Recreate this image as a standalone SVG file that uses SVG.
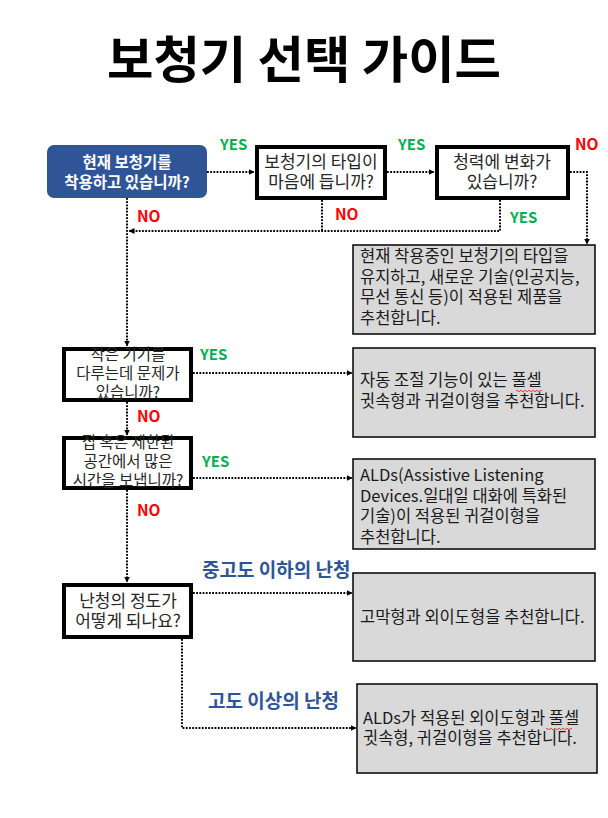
<svg xmlns="http://www.w3.org/2000/svg" width="608" height="818" viewBox="0 0 608 818">
<defs>
<marker id="ah" viewBox="0 0 6 6" refX="5.5" refY="3" markerWidth="6" markerHeight="6" markerUnits="userSpaceOnUse" orient="auto">
<path d="M0,0 L6,3 L0,6 Z" fill="#000"/>
</marker>
<style>
text{font-family:"Noto Sans CJK KR","Noto Sans",sans-serif;}
.title{font-size:50px;font-weight:bold;fill:#000;}
.q{fill:#fff;stroke:#000;stroke-width:4;}
.qt{font-size:17px;fill:#262626;text-anchor:middle;}
.qs{font-size:15.5px;fill:#262626;text-anchor:middle;}
.start{fill:#2F5597;}
.st{font-size:15.5px;font-weight:bold;fill:#fff;text-anchor:middle;}
.r{fill:#D9D9D9;stroke:#000;stroke-width:1.5;}
.rt{font-size:16.5px;fill:#1a1a1a;}
.yes{font-size:15px;font-weight:bold;fill:#00B050;}
.no{font-size:15.5px;font-weight:bold;fill:#FF0000;}
.lvl{font-size:19px;font-weight:bold;fill:#2F5597;}
.c{fill:none;stroke:#000;stroke-width:2;stroke-dasharray:1.8 1.4;}
.arr{marker-end:url(#ah);}
.sq{fill:none;stroke:#E03030;stroke-width:0.9;}
</style>
</defs>

<text class="title" x="304" y="78" text-anchor="middle" textLength="394" lengthAdjust="spacingAndGlyphs">보청기 선택 가이드</text>

<g id="connectors">
<path class="c arr" d="M207,172 H254"/>
<path class="c arr" d="M387,172 H434"/>
<path class="c arr" d="M570,172 H587 V244"/>
<path class="c" d="M322,200 V231"/>
<path class="c arr" d="M500,200 V231 H129"/>
<path class="c arr" d="M127,198 V346"/>
<path class="c arr" d="M193,373 H352"/>
<path class="c arr" d="M127,402 V435"/>
<path class="c arr" d="M193,478 H352"/>
<path class="c arr" d="M127,490 V582"/>
<path class="c arr" d="M193,593 H352"/>
<path class="c arr" d="M182,639 V728 H356"/>
</g>

<g id="labels">
<text class="yes" x="220" y="150">YES</text>
<text class="yes" x="398" y="150">YES</text>
<text class="no" x="575" y="150">NO</text>
<text class="no" x="137" y="222">NO</text>
<text class="no" x="335" y="220">NO</text>
<text class="yes" x="510" y="223">YES</text>
<text class="yes" x="200" y="360">YES</text>
<text class="no" x="137" y="422">NO</text>
<text class="yes" x="202" y="467">YES</text>
<text class="no" x="137" y="516">NO</text>
<text class="lvl" x="202" y="577">중고도 이하의 난청</text>
<text class="lvl" x="208" y="708">고도 이상의 난청</text>
</g>

<g id="q1">
<rect class="start" x="47" y="145" width="160" height="53" rx="7"/>
<text class="st" x="127" y="168">현재 보청기를</text>
<text class="st" x="127" y="188">착용하고 있습니까?</text>
</g>

<g id="q2">
<rect class="q" x="257" y="147" width="128" height="51"/>
<text class="qt" x="321" y="168">보청기의 타입이</text>
<text class="qt" x="321" y="188">마음에 듭니까?</text>
</g>

<g id="q3">
<rect class="q" x="437" y="147" width="131" height="51"/>
<text class="qt" x="502" y="168">청력에 변화가</text>
<text class="qt" x="502" y="188">있습니까?</text>
</g>

<g id="q4">
<rect class="q" x="64" y="349" width="127" height="51"/>
<text class="qs" x="128" y="360">작은 기기를</text>
<text class="qs" x="128" y="379">다루는데 문제가</text>
<text class="qs" x="128" y="398">있습니까?</text>
</g>

<g id="q5">
<rect class="q" x="64" y="438" width="127" height="50"/>
<text class="qs" x="128" y="448">집 혹은 제한된</text>
<text class="qs" x="128" y="467">공간에서 많은</text>
<text class="qs" x="128" y="486">시간을 보냅니까?</text>
</g>

<g id="q6">
<rect class="q" x="64" y="585" width="127" height="52"/>
<text class="qt" x="128" y="607">난청의 정도가</text>
<text class="qt" x="128" y="627">어떻게 되나요?</text>
</g>

<g id="r1">
<rect class="r" x="353" y="245" width="242" height="89"/>
<text class="rt" x="360" y="262">현재 착용중인 보청기의 타입을</text>
<text class="rt" x="360" y="283">유지하고, 새로운 기술(인공지능,</text>
<text class="rt" x="360" y="303">무선 통신 등)이 적용된 제품을</text>
<text class="rt" x="360" y="324">추천합니다.</text>
</g>

<g id="r2">
<rect class="r" x="353" y="348" width="242" height="89"/>
<text class="rt" x="360" y="386">자동 조절 기능이 있는 풀셀</text>
<text class="rt" x="360" y="407">귓속형과 귀걸이형을 추천합니다.</text>
<path class="sq" d="M516,391 q1,-1.5 2,0 t2,0 t2,0 t2,0 t2,0 t2,0 t2,0 t2,0 t2,0 t2,0 t2,0 t2,0 t2,0"/>
</g>

<g id="r3">
<rect class="r" x="353" y="459" width="242" height="90"/>
<text class="rt" x="360" y="481">ALDs(Assistive Listening</text>
<text class="rt" x="360" y="502">Devices.일대일 대화에 특화된</text>
<text class="rt" x="360" y="522">기술)이 적용된 귀걸이형을</text>
<text class="rt" x="360" y="543">추천합니다.</text>
</g>

<g id="r4">
<rect class="r" x="353" y="573" width="242" height="88"/>
<text class="rt" x="360" y="623">고막형과 외이도형을 추천합니다.</text>
</g>

<g id="r5">
<rect class="r" x="357" y="684" width="240" height="89"/>
<text class="rt" x="363" y="724">ALDs가 적용된 외이도형과 풀셀</text>
<text class="rt" x="363" y="744">귓속형, 귀걸이형을 추천합니다.</text>
<path class="sq" d="M546,729 q1,-1.5 2,0 t2,0 t2,0 t2,0 t2,0 t2,0 t2,0 t2,0 t2,0 t2,0 t2,0 t2,0 t2,0"/>
</g>
</svg>
